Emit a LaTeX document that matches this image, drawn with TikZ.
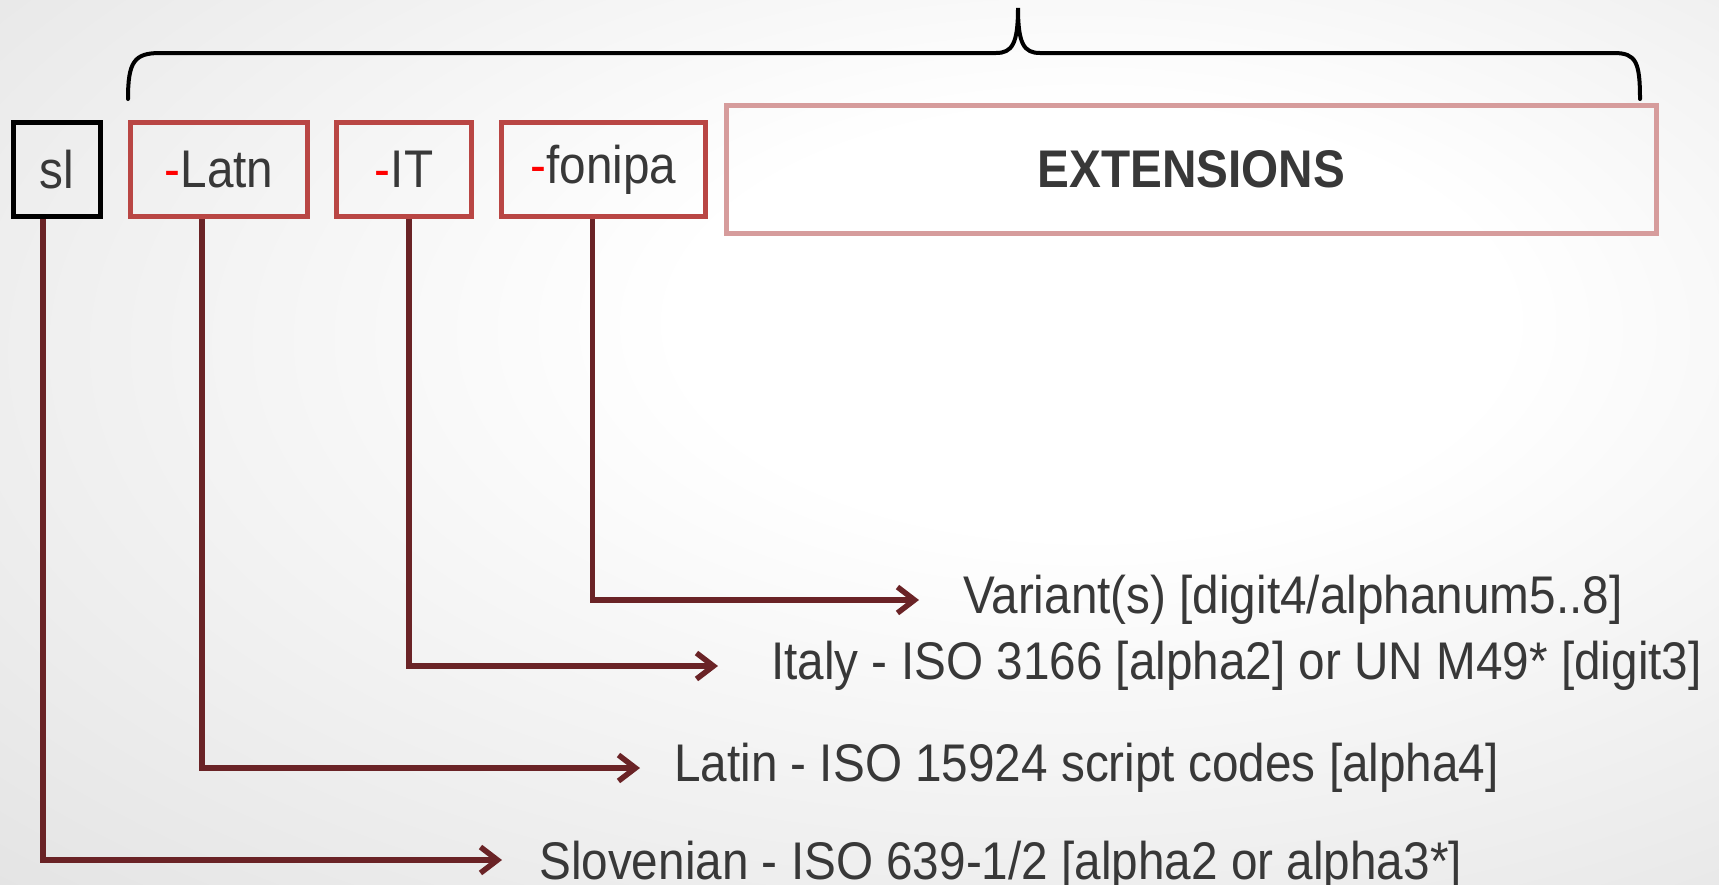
\documentclass[tikz,border=0pt]{standalone}
\usepackage{fontspec}
\setmainfont[FakeStretch=0.9]{Liberation Sans}
\usetikzlibrary{arrows.meta,positioning}

\definecolor{textgray}{HTML}{383838}
\definecolor{tagred}{HTML}{B94644}
\definecolor{extpink}{HTML}{D69C9C}
\definecolor{connred}{HTML}{6A2326}
\definecolor{dashred}{HTML}{FF0000}
\pgfdeclareradialshading{slidebg}{\pgfpoint{8bp}{8bp}}{color(0bp)=(white); color(12bp)=(white); color(45bp)=(gray!24); color(80bp)=(gray!40)}
\newcommand{\bigfont}{\fontsize{53}{60}\selectfont}
\newcommand{\reddash}{\textcolor{dashred}{-}}

\begin{document}
\begin{tikzpicture}[x=1pt, y=-1pt, font=\bigfont, text=textgray,
	tag/.style={draw=tagred, line width=5pt, minimum height=94pt, inner sep=0pt},
	conn/.style={draw=connred, line width=5.5pt, -{Straight Barb[length=17pt,width=26pt]}},
	lbl/.style={anchor=west, inner sep=0pt}]
\shade [shading=slidebg] (0,0) rectangle (1719,884);
\useasboundingbox (0,0) rectangle (1719,884);

% subtags
\node [tag, draw=black, minimum width=87pt] (sl) at (57,169.5) {sl};
\node [tag, minimum width=177pt, right=25pt of sl] (latn) {\reddash Latn};
\node [tag, minimum width=135pt, right=24pt of latn] (it) {\reddash IT};
\node [tag, minimum width=204pt, right=25pt of it] (fonipa) {\reddash fonipa};
\node [tag, draw=extpink, minimum width=930pt, minimum height=128pt,
	font=\bigfont\bfseries, right=16pt of fonipa] (ext) {EXTENSIONS};

% brace
\draw [line width=4pt, line cap=round]
	(128,99) .. controls (128,62) and (134,53) .. (160,53)
	-- (996,53) .. controls (1012,53) and (1018,44) .. (1018,8)
	.. controls (1018,44) and (1024,53) .. (1040,53)
	-- (1614,53) .. controls (1636,53) and (1640,62) .. (1640,99);

% descriptions
\node [lbl] (variant) at (963,600) {Variant(s) [digit4/alphanum5..8]};
\node [lbl] (italy) at (771,666) {Italy - ISO 3166 [alpha2] or UN M49* [digit3]};
\node [lbl] (latin) at (674,768) {Latin - ISO 15924 script codes [alpha4]};
\node [lbl] (slov) at (539,866) {Slovenian - ISO 639-1/2 [alpha2 or alpha3*]};

\foreach \src/\dst/\dx/\gap/\dy in {sl/slov/-14/37/6, latn/latin/-17/34/0,
		it/italy/5/53/0, fonipa/variant/-11/44/0}
	\draw [conn] ([xshift=\dx pt]\src.south) |- ([xshift=-\gap pt, yshift=\dy pt]\dst.west);
\end{tikzpicture}
\end{document}
